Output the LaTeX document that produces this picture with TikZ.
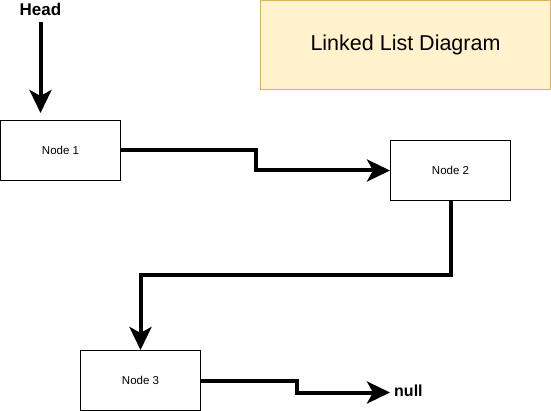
\documentclass[tikz,border=0pt]{standalone}
\usepackage{fontspec}
\setmainfont{Liberation Sans}
\usetikzlibrary{arrows.meta}
\definecolor{titlefill}{HTML}{FFF2CC}
\definecolor{titledraw}{HTML}{D6B656}
\tikzset{
  listnode/.style={draw=black, line width=1pt, fill=white, minimum width=120pt, minimum height=60pt, inner sep=0pt, font=\fontsize{11.5}{13}\selectfont},
  titlebox/.style={draw=titledraw, line width=1pt, fill=titlefill, minimum width=290pt, minimum height=89pt, inner sep=0pt, font=\fontsize{21.5}{24}\selectfont},
  boldlabel/.style={inner sep=0pt, font=\fontsize{17}{20}\selectfont\bfseries},
  arr/.style={line width=4pt, -{Stealth[length=23pt, width=22pt, inset=6pt]}}
}
\begin{document}
\begin{tikzpicture}[x=1pt, y=-1pt]
  \useasboundingbox (0,0) rectangle (551,411);
  \node[titlebox] (title) at (405.5,45) {Linked List Diagram};
  \node[boldlabel, anchor=base] (head) at (40.5,15.3) {Head};
  \coordinate (htip) at (40.5,113);
  \node[listnode] (n1) at (60.5,150.5) {Node 1};
  \node[listnode] (n2) at (450.5,170.5) {Node 2};
  \node[listnode] (n3) at (140.5,380.5) {Node 3};
  \node[boldlabel, font=\fontsize{16}{19}\selectfont\bfseries, anchor=base west] (null) at (394,396.7) {null};
  \coordinate (ntip) at (390,392.5);
  \draw[arr] ([yshift=-6.5pt]head.base) -- (htip);
  \draw[arr] (n1.east) -- (255.5,150.5) |- (n2.west);
  \draw[arr] (n2.south) |- (140.5,275) -- (n3.north);
  \draw[arr] (n3.east) -- (296.5,380.5) |- (ntip);
\end{tikzpicture}
\end{document}
